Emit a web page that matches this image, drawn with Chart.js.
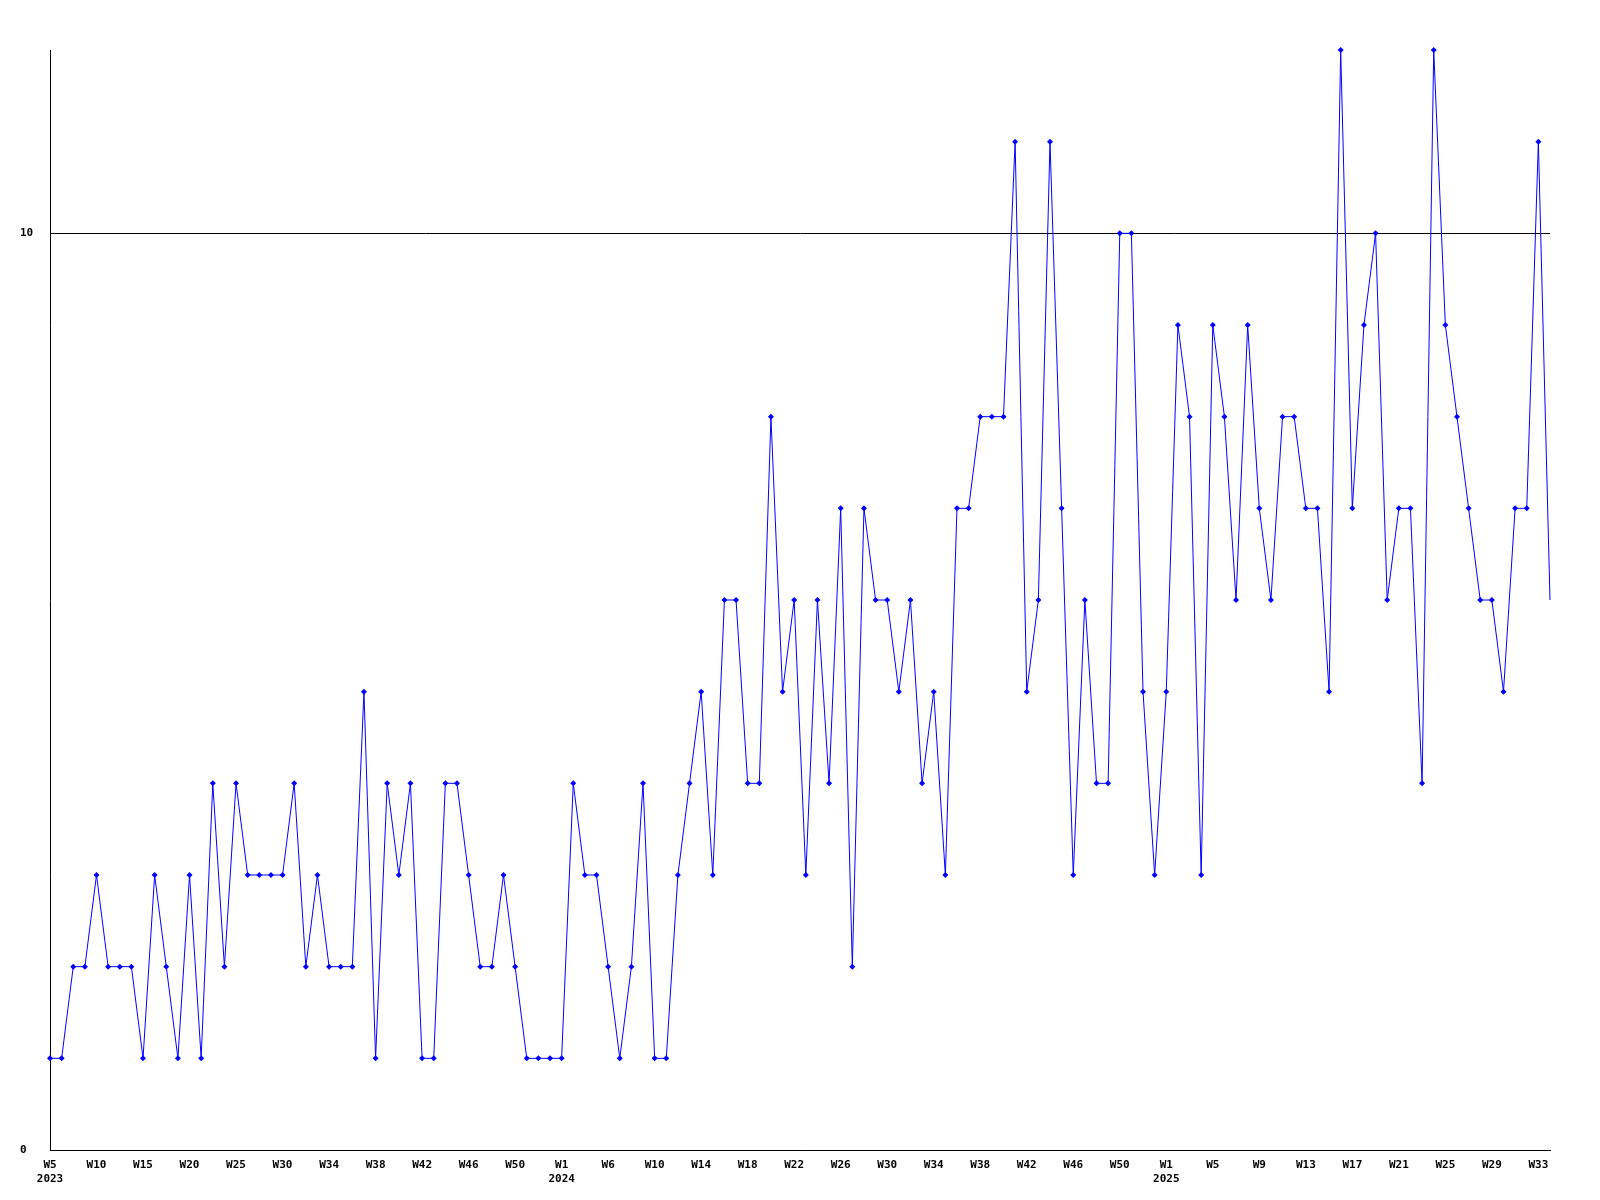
<!DOCTYPE html>
<html>
<head>
<meta charset="utf-8">
<script src="https://cdn.jsdelivr.net/npm/chart.js@4.4.1/dist/chart.umd.min.js"></script>
<style>
  html, body { margin: 0; padding: 0; background: #ffffff; }
  canvas { display: block; }
</style>
</head>
<body>
<canvas id="weekly" width="1600" height="1200"></canvas>
<script>
// weekly counts, 2023 W5 .. 2025 W34
const counts = [
	1, 1, 2, 2, 3, 2, 2, 2, 1, 3, 2, 1, 3, 1, 4, 2, 4, 3, 3, 3,
	3, 4, 2, 3, 2, 2, 2, 5, 1, 4, 3, 4, 1, 1, 4, 4, 3, 2, 2, 3,
	2, 1, 1, 1, 1, 4, 3, 3, 2, 1, 2, 4, 1, 1, 3, 4, 5, 3, 6, 6,
	4, 4, 8, 5, 6, 3, 6, 4, 7, 2, 7, 6, 6, 5, 6, 4, 5, 3, 7, 7,
	8, 8, 8, 11, 5, 6, 11, 7, 3, 6, 4, 4, 10, 10, 5, 3, 5, 9, 8, 3,
	9, 8, 6, 9, 7, 6, 8, 8, 7, 7, 5, 12, 7, 9, 10, 6, 7, 7, 4, 12,
	9, 8, 7, 6, 6, 5, 7, 7, 11, 6,
];
// week labels printed under the axis (every 4th point)
const weekTicks = [
	"W5", "W10", "W15", "W20", "W25", "W30", "W34", "W38", "W42", "W46", "W50",
	"W1", "W6", "W10", "W14", "W18", "W22", "W26", "W30", "W34", "W38", "W42", "W46", "W50",
	"W1", "W5", "W9", "W13", "W17", "W21", "W25", "W29", "W33",
];
const years = ["2023", "2024", "2025"];
const yTicks = [0, 10];

// build category labels; year goes under the first tick and under each W1
let yearIdx = 0;
const labels = counts.map((v, i) => {
	if (i % 4 !== 0) return "";
	const w = weekTicks[i / 4];
	if (i === 0 || w === "W1") {
		return [w, years[yearIdx++]];
	}
	return w;
});

const axisFont = { family: "'DejaVu Sans Mono', 'Liberation Mono', monospace", size: 11, weight: "bold", lineHeight: 1.3 };

new Chart(document.getElementById("weekly"), {
	type: "line",
	data: {
		labels: labels,
		datasets: [
			{
				data: counts,
				borderColor: "#0000ff",
				backgroundColor: "#0000ff",
				borderWidth: 1,
				tension: 0,
				fill: false,
				clip: false,
				pointStyle: "rectRot",
				pointRadius: (ctx) => (ctx.dataIndex === counts.length - 1 ? 0 : 3),
				pointBorderWidth: 0,
				pointBackgroundColor: "#0000ff",
			},
		],
	},
	options: {
		responsive: false,
		devicePixelRatio: 1,
		animation: false,
		layout: {
			padding: { left: 20, right: 50, top: 50, bottom: 0 },
		},
		scales: {
			x: {
				offset: false,
				grid: { display: false },
				border: { display: true, color: "#000000", width: 1 },
				ticks: {
					autoSkip: false,
					maxRotation: 0,
					minRotation: 0,
					padding: 0,
					color: "#000000",
					font: axisFont,
				},
				afterFit: (scale) => {
					scale.height = 50;
				},
			},
			y: {
				min: 0,
				max: 12,
				afterBuildTicks: (scale) => {
					scale.ticks = yTicks.map((v) => ({ value: v }));
				},
				grid: {
					color: "#000000",
					lineWidth: 1,
					drawTicks: false,
				},
				border: { display: true, color: "#000000", width: 1 },
				ticks: {
					crossAlign: "far",
					padding: 0,
					color: "#000000",
					font: axisFont,
				},
				afterFit: (scale) => {
					scale.width = 30;
				},
			},
		},
		plugins: {
			legend: { display: false },
			tooltip: { enabled: false },
		},
	},
});
</script>
</body>
</html>
